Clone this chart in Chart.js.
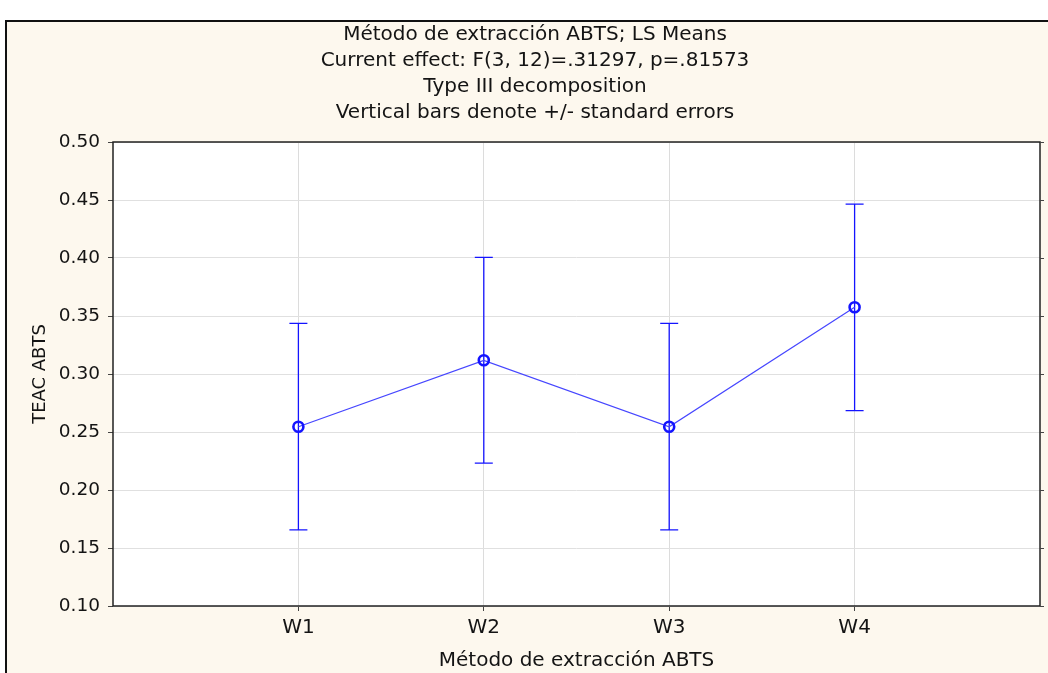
<!DOCTYPE html>
<html>
<head>
<meta charset="utf-8">
<script src="https://cdn.jsdelivr.net/npm/chart.js@4/dist/chart.umd.min.js"></script>
<style>
  html, body { margin: 0; padding: 0; background: #ffffff; }
  #wrap { width: 1048px; height: 673px; position: relative; }
</style>
</head>
<body>
<div id="wrap"><canvas id="lsChart" width="1048" height="673"></canvas></div>
<script>
// values
const categories = ['W1', 'W2', 'W3', 'W4'];
const lsMeans = [0.2545, 0.3118, 0.2545, 0.3575];
const errLower = [0.1657, 0.2232, 0.1657, 0.2685];
const errUpper = [0.3436, 0.4006, 0.3436, 0.4465];
const yTicks = [0.10, 0.15, 0.20, 0.25, 0.30, 0.35, 0.40, 0.45, 0.50];
const titleLines = [
    'Método de extracción ABTS; LS Means',
    'Current effect: F(3, 12)=.31297, p=.81573',
    'Type III decomposition',
    'Vertical bars denote +/- standard errors'
];

const BLUE = '#1414ff';
const TEXT = '#141414';

Chart.defaults.font.family = "'DejaVu Sans', 'Liberation Sans', sans-serif";
Chart.defaults.color = TEXT;

// cream frame behind everything, white plot area, dark box round it
const framePlugin = {
    id: 'frame',
    beforeDraw(chart) {
        const c = chart.ctx, a = chart.chartArea;
        c.save();
        c.fillStyle = '#fdf8ee';
        c.fillRect(5, 20, chart.width - 5, chart.height - 20);
        c.strokeStyle = '#111';
        c.lineWidth = 2;
        c.beginPath();
        c.moveTo(6, chart.height);
        c.lineTo(6, 21);
        c.lineTo(chart.width, 21);
        c.stroke();
        c.fillStyle = '#ffffff';
        c.fillRect(a.left, a.top, a.right - a.left, a.bottom - a.top);
        c.restore();
    },
    afterDraw(chart) {
        const c = chart.ctx, a = chart.chartArea, ys = chart.scales.y;
        c.save();
        c.strokeStyle = '#222';
        c.lineWidth = 1.5;
        c.strokeRect(a.left, a.top, a.right - a.left, a.bottom - a.top);
        // little ticks on the right side too
        c.lineWidth = 1;
        c.strokeStyle = '#444';
        c.beginPath();
        ys.ticks.forEach(t => {
            const py = Math.round(ys.getPixelForValue(t.value)) + 0.5;
            c.moveTo(a.right, py);
            c.lineTo(a.right + 4, py);
        });
        c.stroke();
        c.restore();
    }
};

// vertical +/- standard error bars
const errorBars = {
    id: 'errorBars',
    beforeDatasetsDraw(chart) {
        const c = chart.ctx;
        const xs = chart.scales.x, ys = chart.scales.y;
        c.save();
        c.strokeStyle = BLUE;
        c.lineWidth = 1.3;
        categories.forEach((cat, i) => {
            const px = xs.getPixelForValue(i + 1);
            const lo = ys.getPixelForValue(errLower[i]);
            const hi = ys.getPixelForValue(errUpper[i]);
            c.beginPath();
            c.moveTo(px, lo); c.lineTo(px, hi);
            c.moveTo(px - 9, lo); c.lineTo(px + 9, lo);
            c.moveTo(px - 9, hi); c.lineTo(px + 9, hi);
            c.stroke();
        });
        c.restore();
    }
};

new Chart(document.getElementById('lsChart'), {
    type: 'line',
    data: {
        datasets: [{
            label: 'TEAC ABTS',
            data: lsMeans.map((v, i) => ({ x: i + 1, y: v })),
            borderColor: '#4646ff',
            borderWidth: 1.2,
            pointRadius: 5,
            pointBorderWidth: 2.6,
            pointBorderColor: BLUE,
            pointBackgroundColor: 'rgba(0,0,0,0)',
            tension: 0
        }]
    },
    options: {
        responsive: false,
        animation: false,
        layout: { padding: { left: 30, right: 8, top: 22, bottom: 0 } },
        plugins: {
            legend: { display: false },
            tooltip: { enabled: false },
            title: {
                display: true,
                text: titleLines,
                color: TEXT,
                font: { size: 20, weight: 'normal', lineHeight: 1.3 },
                padding: { top: 0, bottom: 16 }
            }
        },
        scales: {
            x: {
                type: 'linear',
                min: 0,
                max: categories.length + 1,
                afterBuildTicks: (s) => { s.ticks = categories.map((c, i) => ({ value: i + 1 })); },
                ticks: {
                    autoSkip: false,
                    maxRotation: 0,
                    padding: 5,
                    font: { size: 20 },
                    callback: (v) => categories[v - 1] || ''
                },
                grid: { color: '#dcdcdc', tickLength: 5, tickColor: '#444' },
                border: { display: false },
                title: {
                    display: true,
                    text: 'Método de extracción ABTS',
                    font: { size: 20 },
                    padding: { top: 4, bottom: 0 }
                }
            },
            y: {
                min: 0.10,
                max: 0.50,
                afterBuildTicks: (s) => { s.ticks = yTicks.map(v => ({ value: v })); },
                afterFit: (s) => { s.width = 83; },
                ticks: {
                    padding: 8,
                    font: { size: 18.5 },
                    callback: (v) => Number(v).toFixed(2)
                },
                grid: { color: '#e0e0e0', tickLength: 5, tickColor: '#444' },
                border: { display: false },
                title: {
                    display: true,
                    text: 'TEAC ABTS',
                    font: { size: 18 },
                    padding: { top: 0, bottom: 4 }
                }
            }
        }
    },
    plugins: [framePlugin, errorBars]
});
</script>
</body>
</html>
